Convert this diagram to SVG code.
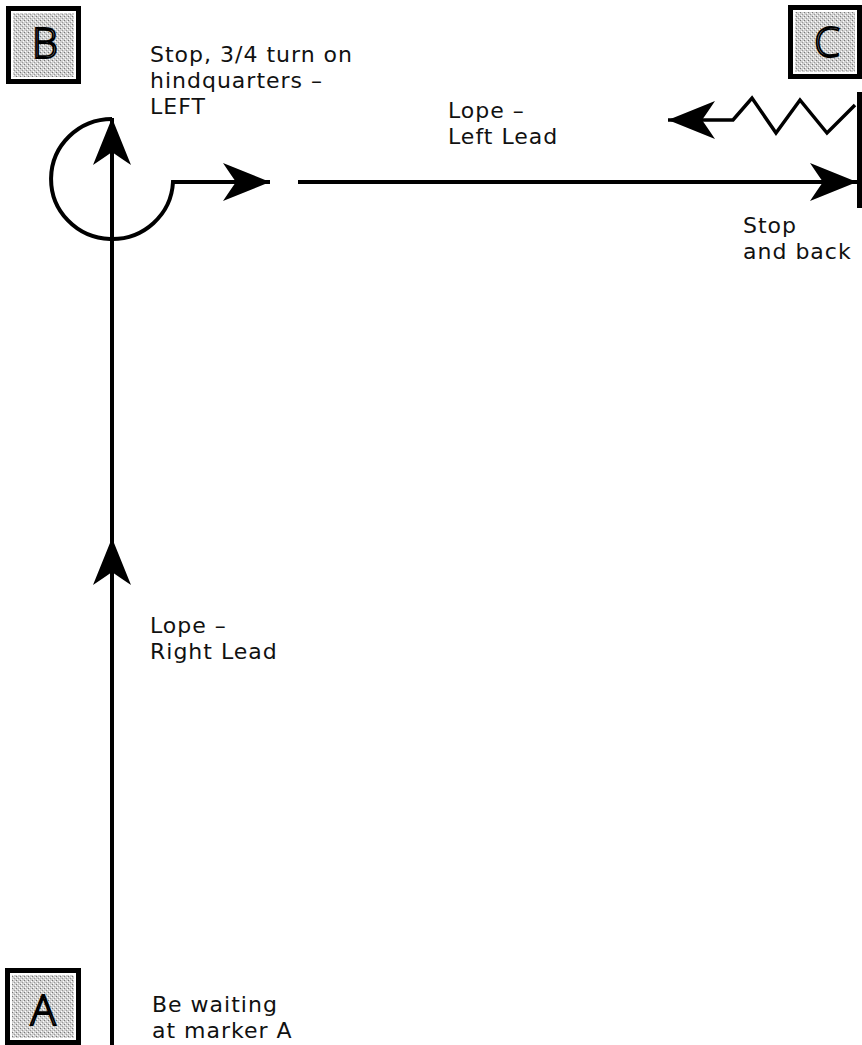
<svg xmlns="http://www.w3.org/2000/svg" width="862" height="1045" viewBox="0 0 862 1045">
<style>
.lbl{font-family:"DejaVu Sans","Liberation Sans",sans-serif;font-size:22px;letter-spacing:1px;fill:#111}
.letter{font-family:"Open Sans","Noto Sans","Liberation Sans",sans-serif;font-size:42px;font-weight:300;fill:#e8e8e8;stroke:#000;stroke-width:1.8;text-anchor:middle}
.outer{fill:#000}
.gap{fill:#fff}
.inner{fill:url(#stip)}
.ln{fill:none;stroke:#000;stroke-width:4;stroke-linejoin:miter}
.zz{fill:none;stroke:#000;stroke-width:3.5;stroke-linejoin:miter}
</style>
<defs>
<pattern id="stip" width="4" height="4" patternUnits="userSpaceOnUse">
<rect width="4" height="4" fill="#d0d0d0"/>
<rect x="0" y="0" width="1" height="1" fill="#777"/>
<rect x="2" y="2" width="1" height="1" fill="#999"/>
<rect x="3" y="1" width="1" height="1" fill="#fff"/>
<rect x="1" y="3" width="1" height="1" fill="#fff"/>
</pattern>
<marker id="arr" markerUnits="userSpaceOnUse" viewBox="-50 -22 52 44" refX="0" refY="0" markerWidth="52" markerHeight="44" orient="auto">
<path d="M0,0 L-47,-19 Q-39,-7 -34,0 Q-39,7 -47,19 Z" fill="#000"/>
</marker>
</defs>
<rect width="862" height="1045" fill="#fff"/>

<g id="marker-B">
<rect class="outer" x="6" y="6" width="75" height="78"/>
<rect class="gap" x="11" y="11" width="65" height="68"/>
<rect class="inner" x="13" y="13" width="61" height="64"/>
<text class="letter" x="45" y="58">B</text>
</g>
<g id="marker-C">
<rect class="outer" x="788" y="5" width="74" height="74"/>
<rect class="gap" x="793" y="10" width="64" height="64"/>
<rect class="inner" x="795" y="12" width="60" height="60"/>
<text class="letter" x="827" y="57">C</text>
</g>
<g id="marker-A">
<rect class="outer" x="5" y="968" width="76" height="77"/>
<rect class="gap" x="10" y="973" width="66" height="67"/>
<rect class="inner" x="12" y="975" width="62" height="63"/>
<text class="letter" x="43" y="1025">A</text>
</g>
<g id="wall">
<rect x="857" y="92" width="5" height="116" fill="#000"/>
</g>

<g id="connectors">
<path class="ln" d="M112,1045 L112,538 L112,118" marker-mid="url(#arr)" marker-end="url(#arr)"/>
<path class="ln" d="M112,119 A61,60 0 1 0 173,182 L270,182" marker-end="url(#arr)"/>
<path class="ln" d="M298,182 L857,182" marker-end="url(#arr)"/>
<path class="zz" d="M855,105 L827,133 L800,100 L776,133 L752,98 L733,120 L668,120" marker-end="url(#arr)"/>
</g>

<g id="label-turn">
<text class="lbl" x="150" y="62">Stop, 3/4 turn on<tspan x="150" dy="26">hindquarters –</tspan><tspan x="150" dy="26">LEFT</tspan></text>
</g>
<g id="label-left-lead">
<text class="lbl" x="448" y="118">Lope –<tspan x="448" dy="26">Left Lead</tspan></text>
</g>
<g id="label-stop-back">
<text class="lbl" x="743" y="233">Stop<tspan x="743" dy="26">and back</tspan></text>
</g>
<g id="label-right-lead">
<text class="lbl" x="150" y="633">Lope –<tspan x="150" dy="26">Right Lead</tspan></text>
</g>
<g id="label-waiting">
<text class="lbl" x="152" y="1012">Be waiting<tspan x="152" dy="26">at marker A</tspan></text>
</g>
</svg>
